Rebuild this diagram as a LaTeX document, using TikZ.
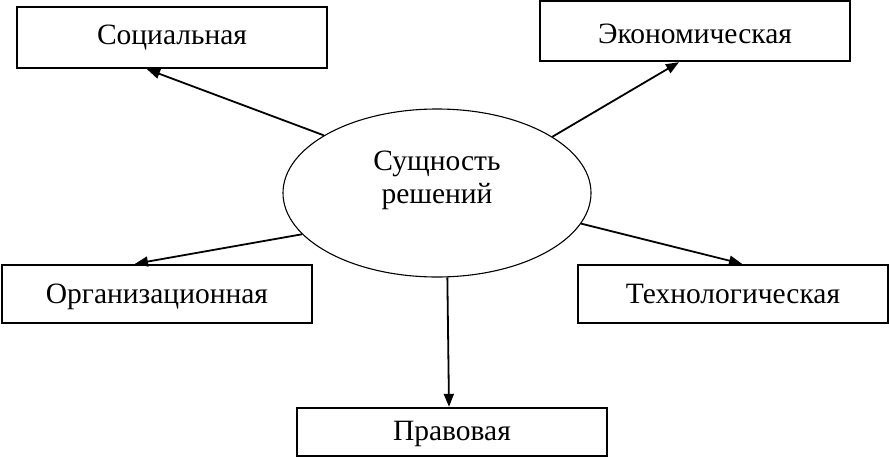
\documentclass[tikz,border=0pt]{standalone}
\usepackage{fontspec}
\setmainfont{Liberation Serif}
\usetikzlibrary{arrows.meta,shapes.geometric}
\begin{document}
\begin{tikzpicture}[x=1pt,y=-1pt,
  box/.style={draw,line width=2.4pt,rectangle,inner sep=0pt,font=\fontsize{29.5}{34}\selectfont},
  arr/.style={line width=1.8pt,-{Triangle[length=13pt,width=10pt]}},
  ell/.style={draw,line width=1.1pt,ellipse,inner sep=0pt}]
\useasboundingbox (0,0) rectangle (890,458);
\node[box,minimum width=310pt,minimum height=61pt] (soc) at (172,37.5) {Социальная};
\node[box,minimum width=310pt,minimum height=60pt,text height=25pt] (eco) at (695,31) {Экономическая};
\node[box,minimum width=310pt,minimum height=58pt,text depth=0pt] (org) at (157,294) {Организационная};
\node[box,minimum width=310pt,minimum height=58pt] (tech) at (733,294) {Технологическая};
\node[box,minimum width=310pt,minimum height=48pt,text depth=0pt,text height=17pt] (prav) at (452,432) {Правовая};
\node[ell,minimum width=308pt,minimum height=168pt] (e) at (437,193) {};
\node[align=center,font=\fontsize{29.5}{33}\selectfont,inner sep=0pt] (et) at (437,180) {Сущность\\решений};
\draw[arr] (e.153) -- ([xshift=-25pt]soc.south);
\draw[arr] (e.26) -- ([xshift=-16pt]eco.south);
\draw[arr] (e.197) -- ([xshift=-22pt]org.north);
\draw[arr] (e.348) -- ([xshift=9pt]tech.north);
\draw[arr] (e.277) -- ([xshift=-3pt]prav.north);
\end{tikzpicture}
\end{document}
